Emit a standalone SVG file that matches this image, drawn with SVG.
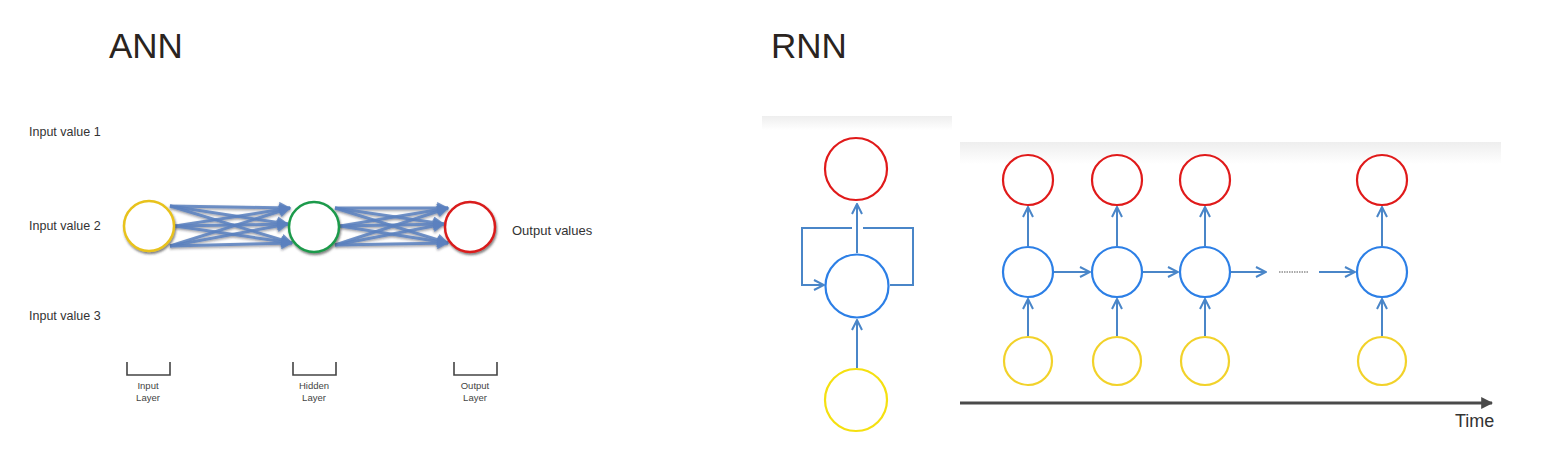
<svg xmlns="http://www.w3.org/2000/svg" width="1549" height="462" viewBox="0 0 1549 462">
<defs>
  <style>
    .title{font-family:"Liberation Sans",Arial,sans-serif;font-size:35px;fill:#2a2420}
    .lbl{font-family:"Liberation Sans",Arial,sans-serif;font-size:12.5px;fill:#333}
    .small{font-family:"Liberation Sans",Arial,sans-serif;font-size:9.5px;fill:#444;text-anchor:middle}
    .time{font-family:"Liberation Sans",Arial,sans-serif;font-size:18px;fill:#333}
    .ann{fill:#fff;stroke-width:2.5;filter:url(#sh)}
    .aw{stroke:#5a80bf;stroke-width:3;fill:none;marker-end:url(#tri);opacity:0.85}
    .br{stroke:#444;stroke-width:1.6;fill:none}
    .c{fill:#fff;stroke-width:2.2}
    .red{stroke:#e01a1a}
    .blue{stroke:#2c7fe6}
    .yel{stroke:#f2d22a}
    .yel2{stroke:#f5e010}
    .ra{stroke:#4a86c8;stroke-width:2;fill:none;marker-end:url(#chev)}
    .rl{stroke:#4a86c8;stroke-width:2;fill:none}
  </style>
  <filter id="sh" x="-30%" y="-30%" width="160%" height="160%">
    <feDropShadow dx="1" dy="2" stdDeviation="1.2" flood-color="#333" flood-opacity="0.6"/>
  </filter>
  <filter id="ash" x="-10%" y="-50%" width="120%" height="200%">
    <feDropShadow dx="0" dy="1.5" stdDeviation="1" flood-color="#223" flood-opacity="0.5"/>
  </filter>
  <marker id="tri" viewBox="0 0 10 10" refX="9" refY="5" markerWidth="4" markerHeight="4" orient="auto" markerUnits="strokeWidth">
    <path d="M0,0 L10,5 L0,10 z" fill="#5a80bf"/>
  </marker>
  <marker id="chev" viewBox="0 0 12 12" refX="11" refY="6" markerWidth="6" markerHeight="6" orient="auto" markerUnits="strokeWidth">
    <path d="M1,1 L11,6 L1,11" fill="none" stroke="#4a86c8" stroke-width="2"/>
  </marker>
  <marker id="big" viewBox="0 0 10 10" refX="9" refY="5" markerWidth="4" markerHeight="4" orient="auto" markerUnits="strokeWidth">
    <path d="M0,0 L10,5 L0,10 z" fill="#4a4a4a"/>
  </marker>
  <linearGradient id="strip" x1="0" y1="0" x2="0" y2="1">
    <stop offset="0" stop-color="#eeeeee"/>
    <stop offset="1" stop-color="#ffffff"/>
  </linearGradient>
</defs>
<rect width="1549" height="462" fill="#fff"/>

<!-- ANN -->
<g id="ann-title"><text class="title" x="109" y="58">ANN</text></g>
<g id="ann-inputs">
  <text class="lbl" x="29" y="136">Input value 1</text>
  <text class="lbl" x="29" y="230">Input value 2</text>
  <text class="lbl" x="29" y="320">Input value 3</text>
</g>
<g id="ann-connectors" filter="url(#ash)">
  <path class="aw" d="M170,206 L290,208"/>
  <path class="aw" d="M170,206 L288,224"/>
  <path class="aw" d="M170,206 L292,243"/>
  <path class="aw" d="M175,226 L290,208"/>
  <path class="aw" d="M175,226 L288,224"/>
  <path class="aw" d="M175,226 L292,243"/>
  <path class="aw" d="M170,246 L290,208"/>
  <path class="aw" d="M170,246 L288,224"/>
  <path class="aw" d="M170,246 L292,243"/>
  <path class="aw" d="M335,208 L448,208"/>
  <path class="aw" d="M335,208 L444,224"/>
  <path class="aw" d="M335,208 L448,243"/>
  <path class="aw" d="M340,226 L448,208"/>
  <path class="aw" d="M340,226 L444,224"/>
  <path class="aw" d="M340,226 L448,243"/>
  <path class="aw" d="M335,245 L448,208"/>
  <path class="aw" d="M335,245 L444,224"/>
  <path class="aw" d="M335,245 L448,243"/>
</g>
<g id="ann-input-node"><circle class="ann" cx="149" cy="226" r="25" stroke="#e8c21c"/></g>
<g id="ann-hidden-node"><circle class="ann" cx="314" cy="227" r="25" stroke="#1e9a4c"/></g>
<g id="ann-output-node"><circle class="ann" cx="470" cy="227" r="25" stroke="#d91c1c"/></g>
<g id="ann-output-label"><text class="lbl" x="512" y="235" style="font-size:13px">Output values</text></g>
<g id="ann-input-layer">
  <path class="br" d="M127,362 V375 H170 V362"/>
  <text class="small" x="148" y="389">Input</text>
  <text class="small" x="148" y="401">Layer</text>
</g>
<g id="ann-hidden-layer">
  <path class="br" d="M293,362 V375 H336 V362"/>
  <text class="small" x="314" y="389">Hidden</text>
  <text class="small" x="314" y="401">Layer</text>
</g>
<g id="ann-output-layer">
  <path class="br" d="M454,362 V375 H497 V362"/>
  <text class="small" x="475" y="389">Output</text>
  <text class="small" x="475" y="401">Layer</text>
</g>

<!-- RNN -->
<g id="rnn-title"><text class="title" x="771" y="58">RNN</text></g>
<rect x="762" y="116" width="190" height="14" fill="url(#strip)"/>
<rect x="960" y="142" width="541" height="22" fill="url(#strip)"/>

<g id="rnn-connectors">
  <!-- folded -->
  <path class="ra" d="M857,253 V204"/>
  <path class="ra" d="M857,368 V320"/>
  <path class="rl" d="M852,228 H802 V285 H824" style="marker-end:url(#chev)"/>
  <path class="rl" d="M863,228 H913 V285 H890"/>
  <!-- unrolled -->
  <path class="ra" d="M1028,336 V299"/>
  <path class="ra" d="M1028,246 V207"/>
  <path class="ra" d="M1117,336 V299"/>
  <path class="ra" d="M1117,246 V207"/>
  <path class="ra" d="M1205,336 V299"/>
  <path class="ra" d="M1205,246 V207"/>
  <path class="ra" d="M1382,336 V299"/>
  <path class="ra" d="M1382,246 V207"/>
  <path class="ra" d="M1053,272 H1090"/>
  <path class="ra" d="M1142,272 H1178"/>
  <path class="ra" d="M1230,272 H1266"/>
  <path d="M1279,272 H1308" stroke="#555" stroke-width="1" stroke-dasharray="1.5,1"/>
  <path class="ra" d="M1319,272 H1355"/>
  <!-- time axis -->
  <path d="M960,403 H1492" stroke="#4a4a4a" stroke-width="3" fill="none" marker-end="url(#big)"/>
</g>

<g id="rnn-fold-out"><circle class="c red" cx="856" cy="169" r="31"/></g>
<g id="rnn-fold-hidden"><circle class="c blue" cx="857" cy="286" r="31.5"/></g>
<g id="rnn-fold-in"><circle class="c yel2" cx="856" cy="400" r="31"/></g>

<g id="rnn-t1">
  <circle class="c red" cx="1028" cy="180" r="25"/>
  <circle class="c blue" cx="1028" cy="272" r="25"/>
  <circle class="c yel" cx="1028" cy="361" r="24"/>
</g>
<g id="rnn-t2">
  <circle class="c red" cx="1117" cy="180" r="25"/>
  <circle class="c blue" cx="1117" cy="272" r="25"/>
  <circle class="c yel" cx="1117" cy="361" r="24"/>
</g>
<g id="rnn-t3">
  <circle class="c red" cx="1205" cy="180" r="25"/>
  <circle class="c blue" cx="1205" cy="272" r="25"/>
  <circle class="c yel" cx="1205" cy="361" r="24"/>
</g>
<g id="rnn-tn">
  <circle class="c red" cx="1382" cy="180" r="25"/>
  <circle class="c blue" cx="1382" cy="272" r="25"/>
  <circle class="c yel" cx="1382" cy="361" r="24"/>
</g>
<g id="time-label"><text class="time" x="1455" y="427">Time</text></g>
</svg>
